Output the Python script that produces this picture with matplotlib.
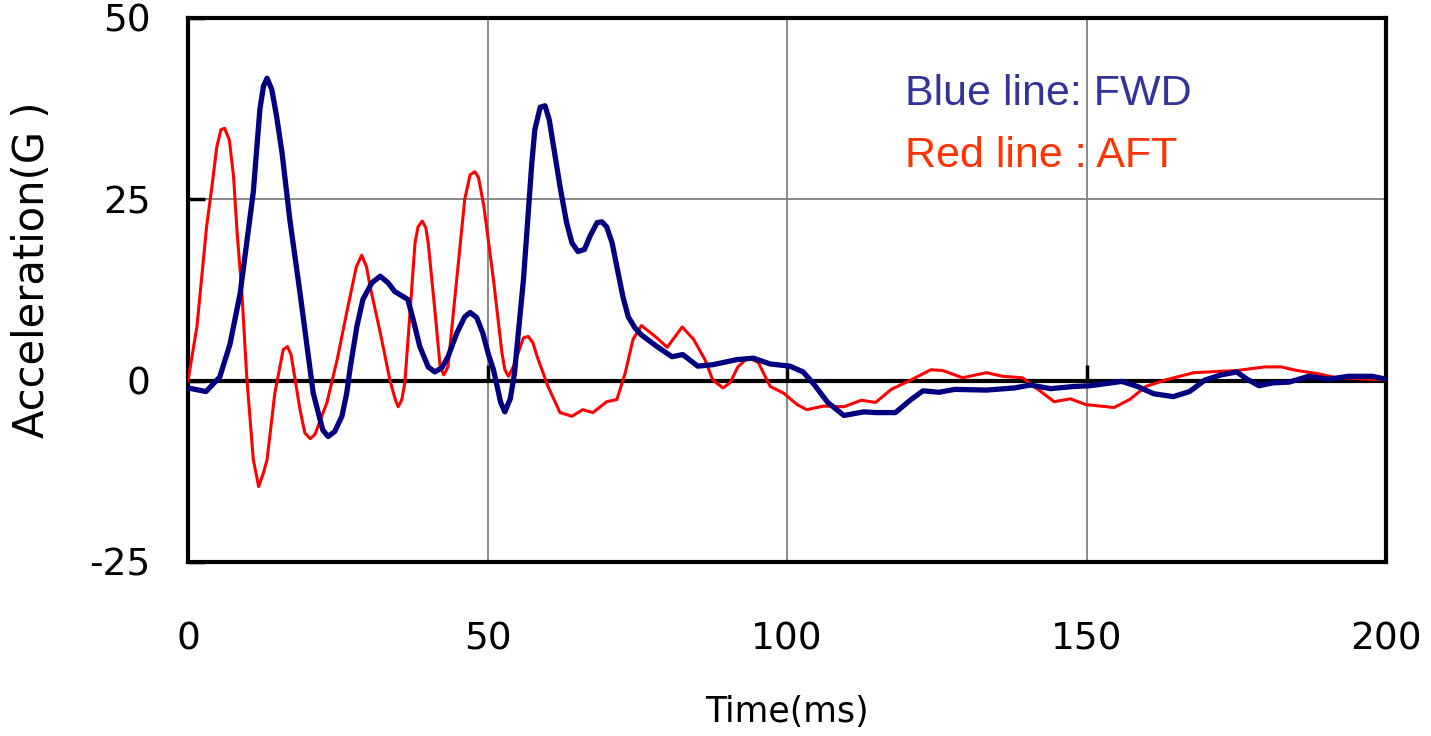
import matplotlib
matplotlib.use("Agg")
import matplotlib.pyplot as plt

# ---- data ----
fwd_t = [0, 3, 5.3, 7, 8.7, 10.9, 12, 12.6, 13.2, 14, 14.8, 15.7, 17, 18.7, 20.9, 22.5, 23.4,
         24.5, 25.7, 26.5, 27.1, 28.2, 29.2, 30.7, 32.1, 33.4, 34.5, 35.9, 36.7, 37.6, 38.7,
         40.1, 41.2, 42.4, 43.4, 44.9, 46.2, 47.1, 48.2, 49.2, 50.2, 51, 52.2, 52.9, 53.8,
         54.5, 56, 57.4, 57.9, 58.8, 59.6, 60.3, 61.3, 62.1, 63.2, 64.1, 65.1, 66.2, 67.1,
         68.3, 69.1, 69.9, 70.8, 71.6, 72.6, 73.5, 74.6, 75.7, 78.3, 80.8, 82.6, 85.1, 87.6,
         91.6, 94.4, 97.2, 100.5, 102.7, 104.5, 106.8, 109.5, 112.8, 114.8, 118.1, 120.7,
         122.7, 125.4, 128, 133.3, 138, 140.6, 144, 147.9, 150.6, 155.9, 158.5, 161.2, 164.5,
         167.2, 169.8, 172.5, 175.1, 176.8, 178.8, 181.1, 183.8, 187.1, 190.4, 193.7, 197.7, 200]
fwd_g = [-1, -1.5, 0.5, 5, 12, 26, 37.4, 40.6, 41.7, 40.1, 36.4, 31.4, 22.2, 12.1, -1.7, -6.8, -7.7,
         -7, -4.9, -1.7, 1.9, 7.5, 11.2, 13.5, 14.4, 13.5, 12.3, 11.6, 11.2, 8.4, 4.7,
         1.9, 1.2, 1.8, 3.3, 6.6, 8.8, 9.4, 8.7, 6.6, 3.5, 1.5, -3, -4.3, -2.5,
         1, 13.9, 30, 34.6, 37.7, 37.9, 36, 30.9, 26.8, 21.8, 19, 17.8, 18.1, 19.9,
         21.8, 21.9, 21.2, 19, 15.7, 11.6, 8.8, 7.3, 6.3, 4.7, 3.3, 3.6, 2, 2.2,
         2.9, 3.1, 2.3, 2, 1.2, -0.5, -3, -4.8, -4.3, -4.4, -4.4, -2.6,
         -1.4, -1.6, -1.2, -1.3, -1, -0.6, -1.1, -0.8, -0.7, -0.1, -0.8, -1.8, -2.2,
         -1.5, 0.1, 0.8, 1.2, 0.2, -0.7, -0.3, -0.2, 0.6, 0.2, 0.6, 0.6, 0.2]

aft_t = [0, 1.5, 3.1, 4, 4.8, 5.5, 6.1, 6.9, 7.6, 8.2, 9, 9.8, 10.9, 11.8, 12.6, 13.2, 14.5,
         15.9, 16.6, 17.2, 18.7, 19.5, 20.4, 21.2, 23.2, 24.9, 26.5, 28.1, 29, 29.8, 30.4,
         32.1, 33.7, 34.6, 35.1, 35.7, 36.2, 37.1, 37.9, 38.4, 39.1, 39.7, 40.1, 41.2, 42.1,
         42.7, 43.4, 44.9, 46.2, 47.1, 47.9, 48.5, 49.4, 51, 52.4, 52.9, 53.5, 54.3, 56,
         56.8, 57.6, 58.3, 60.1, 62.1, 64.1, 65.9, 67.6, 69.9, 71.6, 73, 74.3, 75.7,
         78, 80, 82.5, 84.4, 86.3, 87.6, 89.3, 90.5, 91.8, 93.5, 95.2, 97.2, 99.4, 101.7,
         103.3, 106.1, 109.5, 112.4, 114.8, 117.4, 120.7, 124, 126, 129.3, 133.3, 136,
         139.3, 141.9, 144.6, 147.3, 149.9, 154.6, 157.2, 159.9, 163.2, 167.9, 175.1,
         179.8, 182.5, 185.1, 188.4, 191.7, 195, 200]
aft_g = [0, 7.5, 21.2, 26.8, 32.2, 34.6, 34.8, 33.2, 28.2, 20.4, 12.1, 0.6, -10.9, -14.6, -12.7, -10.9, -1.7,
         4.3, 4.7, 3.6, -4, -7.2, -8, -7.4, -3, 2.9, 9.4, 15.7, 17.3, 15.7, 13,
         6.6, 0.1, -2.6, -3.6, -2.6, -0.3, 9.8, 19, 21.2, 22, 21.1, 19, 9.8, 1.9,
         0.8, 1.9, 14.3, 25, 28.4, 28.8, 28, 24, 13.9, 3.9, 1.5, 0.6, 1.9, 5.9,
         6.1, 5.2, 3.3, -0.8, -4.4, -4.9, -4, -4.4, -2.9, -2.6, 1.1, 5.7, 7.6,
         6.1, 4.6, 7.4, 5.7, 2.9, 0.1, -1, -0.3, 1.9, 3.2, 2.5, -0.8, -1.7, -3.3,
         -4, -3.5, -3.6, -2.7, -3, -1.2, 0.1, 1.5, 1.4, 0.4, 1.1, 0.6,
         0.4, -1.2, -2.9, -2.5, -3.3, -3.7, -2.6, -0.8, 0.1, 1.1, 1.4,
         1.9, 1.9, 1.4, 1, 0.4, 0.3, 0.1]

x_ticks = [0, 50, 100, 150, 200]
y_ticks = [-25, 0, 25, 50]
legend_texts = ["Blue line: FWD", "Red line : AFT"]

# ---- figure ----
fig = plt.figure(figsize=(14.31, 7.36), dpi=100)
ax = fig.add_axes([188/1431, 1 - 562/736, (1386-188)/1431, (562-18)/736])

ax.set_xlim(0, 200)
ax.set_ylim(-25, 50)
ax.set_xticks(x_ticks)
ax.set_yticks(y_ticks)
ax.set_xticklabels([str(v) for v in x_ticks], fontsize=27, family="DejaVu Sans")
ax.set_yticklabels([str(v) for v in y_ticks], fontsize=27, family="DejaVu Sans")

ax.grid(True, color="#808080", linewidth=1.3, zorder=0)
ax.tick_params(axis="x", length=0, pad=43)
ax.tick_params(axis="y", direction="in", length=12, width=2.5, pad=27, color="black")

for s in ax.spines.values():
    s.set_linewidth(3)
    s.set_color("black")

# zero axis with small upward tick marks
ax.axhline(0, color="black", linewidth=3, zorder=2)
ax.vlines([50, 100, 150], 0, 2.2, colors="black", linewidth=2.5, zorder=2)

ax.plot(aft_t, aft_g, color="#FF0000", linewidth=2.2, zorder=3, solid_joinstyle="round")
ax.plot(fwd_t, fwd_g, color="#000080", linewidth=3.8, zorder=4, solid_joinstyle="round")

ax.text(0.5985, 0.840, legend_texts[0], transform=ax.transAxes, color="#333399",
        fontsize=31, family="Liberation Sans", va="baseline", ha="left")
ax.text(0.5985, 0.726, legend_texts[1], transform=ax.transAxes, color="#FF3300",
        fontsize=31, family="Liberation Sans", va="baseline", ha="left")

ax.set_xlabel("Time(ms)", fontsize=25, family="DejaVu Sans")
ax.set_ylabel("Acceleration(G )", fontsize=30, family="DejaVu Sans")
ax.yaxis.set_label_coords(-0.113, 0.537)
ax.xaxis.set_label_coords(0.5, -0.245)

fig.savefig("out.png", dpi=100)
